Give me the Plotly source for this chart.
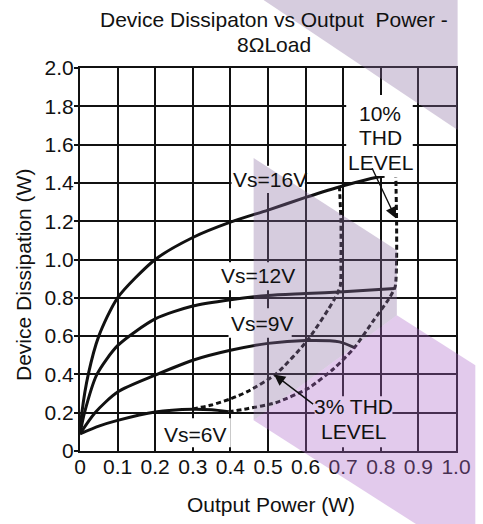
import plotly.graph_objects as go

# ---------------- data ----------------
x_16v = [0, 0.005, 0.022, 0.05, 0.1, 0.2, 0.3, 0.4, 0.5, 0.6, 0.7, 0.79, 0.81]
y_16v = [0.09, 0.2, 0.4, 0.6, 0.8, 1.0, 1.115, 1.195, 1.258, 1.324, 1.385, 1.43, 1.435]

x_12v = [0, 0.012, 0.045, 0.1, 0.2, 0.3, 0.4, 0.5, 0.6, 0.7, 0.837]
y_12v = [0.09, 0.2, 0.4, 0.55, 0.69, 0.757, 0.79, 0.812, 0.822, 0.832, 0.849]

x_9v = [0, 0.04, 0.1, 0.2, 0.3, 0.4, 0.5, 0.6, 0.69, 0.73]
y_9v = [0.09, 0.2, 0.308, 0.396, 0.474, 0.526, 0.562, 0.577, 0.57, 0.54]

x_6v = [0, 0.05, 0.1, 0.2, 0.3, 0.35, 0.395]
y_6v = [0.09, 0.13, 0.16, 0.204, 0.218, 0.215, 0.205]

x_thd3 = [0.3, 0.35, 0.4, 0.445, 0.52, 0.605, 0.675, 0.692, 0.694, 0.694, 0.69]
y_thd3 = [0.22, 0.24, 0.272, 0.31, 0.40, 0.578, 0.787, 0.86, 1.0, 1.2, 1.383]

x_thd10 = [0.395, 0.445, 0.52, 0.605, 0.675, 0.73, 0.78, 0.82, 0.838, 0.842, 0.842, 0.84]
y_thd10 = [0.205, 0.221, 0.252, 0.325, 0.43, 0.54, 0.68, 0.79, 0.857, 1.0, 1.2, 1.43]

x_ticks = [0, 0.1, 0.2, 0.3, 0.4, 0.5, 0.6, 0.7, 0.8, 0.9, 1.0]
x_ticktext = ["0", "0.1", "0.2", "0.3", "0.4", "0.5", "0.6", "0.7", "0.8", "0.9", "1.0"]
y_ticks = [0, 0.2, 0.4, 0.6, 0.8, 1.0, 1.2, 1.4, 1.6, 1.8, 2.0]
y_ticktext = ["0", "0.2", "0.4", "0.6", "0.8", "1.0", "1.2", "1.4", "1.6", "1.8", "2.0"]

title_lines = ["Device Dissipaton vs Output\u00a0 Power -", "8\u03a9Load"]
x_title = "Output Power (W)"
y_title = "Device Dissipation (W)"

# ---------------- style ----------------
W, H = 483, 524
PL, PR, PT, PB = 80, 463.3, 68, 450.7
FONT = "Liberation Sans, Arial, sans-serif"
FS = 21
INK = "#111111"


def paper(px, py):
    return (px - PL) / (PR - PL), (PB - py) / (PB - PT)


def poly(points):
    pts = [paper(a, b) for a, b in points]
    return "M " + " L ".join(f"{a:.4f},{b:.4f}" for a, b in pts) + " Z"


fig = go.Figure()

solid = dict(color=INK, width=3, shape="spline", smoothing=0.7)
dotted = dict(color=INK, width=3, dash="5px,3px", shape="spline", smoothing=0.6)

for xs, ys in [(x_16v, y_16v), (x_12v, y_12v), (x_9v, y_9v), (x_6v, y_6v)]:
    fig.add_trace(go.Scatter(x=xs, y=ys, mode="lines", line=solid,
                             showlegend=False, hoverinfo="skip"))
for xs, ys in [(x_thd3, y_thd3), (x_thd10, y_thd10)]:
    fig.add_trace(go.Scatter(x=xs, y=ys, mode="lines", line=dotted,
                             showlegend=False, hoverinfo="skip"))

shapes = []
# white label boxes hiding the grid (data coords)
label_boxes = [
    (0.403, 0.598, 1.347, 1.49),   # Vs=16V
    (0.370, 0.573, 0.84, 0.986),   # Vs=12V
    (0.395, 0.563, 0.592, 0.746),  # Vs=9V
    (0.208, 0.401, 0.019, 0.171),  # Vs=6V
    (0.708, 0.885, 1.436, 1.859),  # 10% THD LEVEL
    (0.624, 0.831, 0.019, 0.286),  # 3% THD LEVEL
]
for x0, x1, y0, y1 in label_boxes:
    shapes.append(dict(type="rect", xref="x", yref="y", x0=x0, x1=x1, y0=y0, y1=y1,
                       fillcolor="white", line=dict(width=0), layer="above"))

# watermark overlay (semi-transparent)
gray = "rgb(138,109,161)"
violet = "rgb(172,104,201)"
shapes.append(dict(type="path", xref="paper", yref="paper",
                   path=poly([(267, 0), (465, 0), (465, 130)]),
                   fillcolor=gray, opacity=0.35, line=dict(width=0), layer="above"))
shapes.append(dict(type="path", xref="paper", yref="paper",
                   path=poly([(257, 158), (403, 250), (403, 315), (257, 420)]),
                   fillcolor=gray, opacity=0.35, line=dict(width=0), layer="above"))
shapes.append(dict(type="path", xref="paper", yref="paper",
                   path=poly([(257, 420), (403, 315), (483, 365), (483, 524), (423, 524)]),
                   fillcolor=violet, opacity=0.35, line=dict(width=0), layer="above"))

txt = dict(family=FONT, size=FS, color=INK)
ann = []
for t, x, y in [("Vs=16V", 0.504, 1.42), ("Vs=12V", 0.474, 0.918),
                ("Vs=9V", 0.484, 0.667), ("Vs=6V", 0.305, 0.087),
                ("10%", 0.798, 1.765), ("THD", 0.798, 1.639), ("LEVEL", 0.798, 1.509),
                ("3% THD", 0.728, 0.23), ("LEVEL", 0.728, 0.10)]:
    ann.append(dict(text=t, x=x, y=y, xref="x", yref="y", showarrow=False,
                    xanchor="center", yanchor="middle", font=txt))
ann.append(dict(text="", x=0.84, y=1.215, ax=0.775, ay=1.484, xref="x", yref="y",
                axref="x", ayref="y", showarrow=True, arrowhead=2, arrowsize=1.6,
                arrowwidth=1.4, arrowcolor=INK))
ann.append(dict(text="", x=0.516, y=0.40, ax=0.624, ay=0.239, xref="x", yref="y",
                axref="x", ayref="y", showarrow=True, arrowhead=2, arrowsize=1.6,
                arrowwidth=1.4, arrowcolor=INK))
tx, ty = paper(278, 20)
ann.append(dict(text=title_lines[0], x=tx, y=ty, xref="paper", yref="paper",
                showarrow=False, xanchor="center", yanchor="middle", font=txt))
tx, ty = paper(277.5, 44.5)
ann.append(dict(text=title_lines[1], x=tx, y=ty, xref="paper", yref="paper",
                showarrow=False, xanchor="center", yanchor="middle", font=txt))
tx, ty = paper(274.2, 504.5)
ann.append(dict(text=x_title, x=tx, y=ty, xref="paper", yref="paper",
                showarrow=False, xanchor="center", yanchor="middle", font=txt))
tx, ty = paper(21.7, 275)
ann.append(dict(text=y_title, x=tx, y=ty, xref="paper", yref="paper", textangle=-90,
                showarrow=False, xanchor="center", yanchor="middle", font=txt))

fig.update_layout(
    width=W, height=H, autosize=False,
    margin=dict(l=PL, r=W - PR, t=PT, b=H - PB, pad=0),
    paper_bgcolor="white", plot_bgcolor="white",
    font=txt, shapes=shapes, annotations=ann, showlegend=False,
)
fig.update_xaxes(range=[0, 1.0], tickvals=x_ticks, ticktext=x_ticktext,
                 showgrid=True, gridcolor=INK, gridwidth=2,
                 showline=True, linecolor=INK, linewidth=2, mirror=True,
                 zeroline=True, zerolinecolor=INK, zerolinewidth=3,
                 ticks="", tickfont=txt, ticklabelstandoff=-4, fixedrange=True)
fig.update_yaxes(range=[0, 2.0], tickvals=y_ticks, ticktext=y_ticktext,
                 showgrid=True, gridcolor=INK, gridwidth=2,
                 showline=True, linecolor=INK, linewidth=2, mirror=True,
                 zeroline=True, zerolinecolor=INK, zerolinewidth=3,
                 ticks="outside", ticklen=4, tickwidth=2, tickcolor=INK,
                 tickfont=txt, ticklabelstandoff=-4, fixedrange=True)

fig.write_html("out.html", config={"displayModeBar": False},
               post_script="document.body.style.margin='0';document.body.style.overflow='hidden';")
